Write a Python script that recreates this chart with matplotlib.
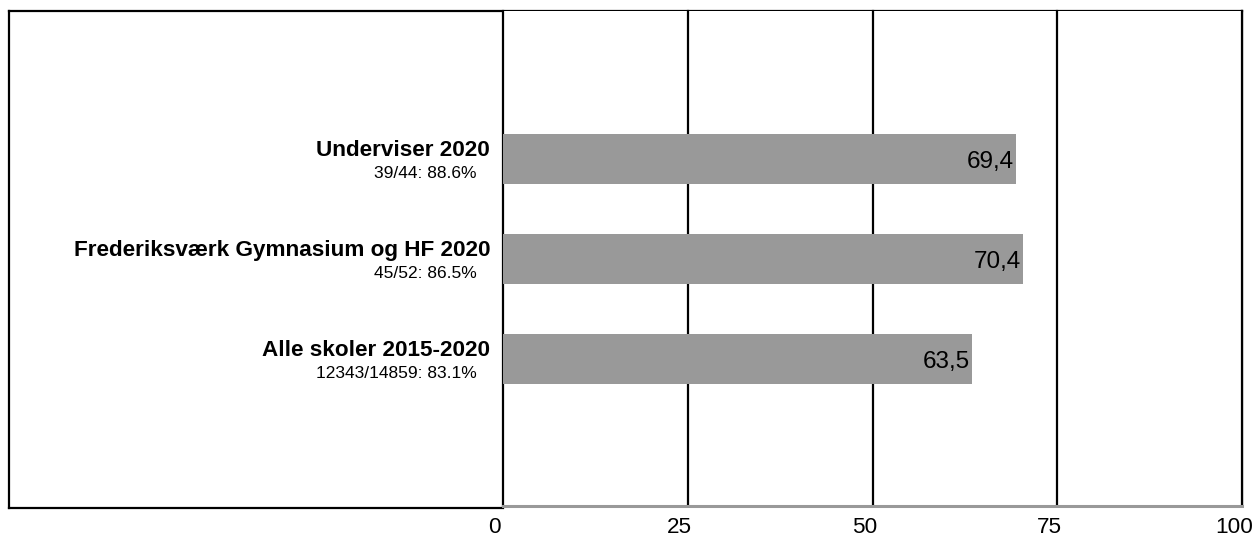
import matplotlib
matplotlib.use("Agg")
import matplotlib.pyplot as plt
from matplotlib.lines import Line2D

categories = ["Underviser 2020", "Frederiksværk Gymnasium og HF 2020", "Alle skoler 2015-2020"]
sublabels = ["39/44: 88.6%", "45/52: 86.5%", "12343/14859: 83.1%"]
values = [69.4, 70.4, 63.5]
value_labels = ["69,4", "70,4", "63,5"]
xticks = [0, 25, 50, 75, 100]

plt.rcParams['font.family'] = ['Liberation Sans', 'DejaVu Sans']

W, H = 1258, 537
fig = plt.figure(figsize=(W / 100, H / 100), dpi=100)
x0, x1 = 503, 1242
y0, y1 = 11, 506
ax = fig.add_axes([x0 / W, 1 - y1 / H, (x1 - x0) / W, (y1 - y0) / H])

ypos = list(range(len(categories)))
ax.barh(ypos, values, height=0.5, color="#999999", zorder=3)
ax.set_xlim(0, 100)
ax.set_ylim(1 + 2.475, 1 - 2.475)

for xt in xticks:
    ax.axvline(xt, color="black", lw=1.6, zorder=1, clip_on=False)

for y, v, lab in zip(ypos, values, value_labels):
    ax.text(v - 0.27, y + 0.097, lab, ha="right", va="baseline", fontsize=17.5,
            color="black", zorder=4)

for y, cat, sub in zip(ypos, categories, sublabels):
    ax.text(-1.75, y - 0.025, cat, ha="right", va="baseline", fontsize=16.2,
            fontweight="bold", clip_on=False)
    ax.text(-3.6, y + 0.195, sub, ha="right", va="baseline", fontsize=12.5, clip_on=False)

for s in ["top", "left", "right", "bottom"]:
    ax.spines[s].set_visible(False)

# gray value axis line
ax.add_line(Line2D([0, 100], [3.475, 3.475], color="#999999", lw=2.2, zorder=5, clip_on=False))

ax.set_yticks([])
ax.set_xticks([])
for t in xticks:
    ax.text(t - 1.1, 3.742, str(t), ha="center", va="baseline", fontsize=16.2, clip_on=False)

# outer frame (figure pixel coords)
def fl(xs, ys):
    fig.add_artist(Line2D([x / W for x in xs], [1 - y / H for y in ys],
                          transform=fig.transFigure, color="black", lw=1.6,
                          solid_capstyle="projecting", zorder=0))

fl([9, 1242], [11, 11])        # top
fl([9, 9], [11, 508])          # left
fl([1242, 1242], [11, 506])    # right
fl([9, 503], [508, 508])       # bottom-left part

fig.savefig("out.png", dpi=100)
